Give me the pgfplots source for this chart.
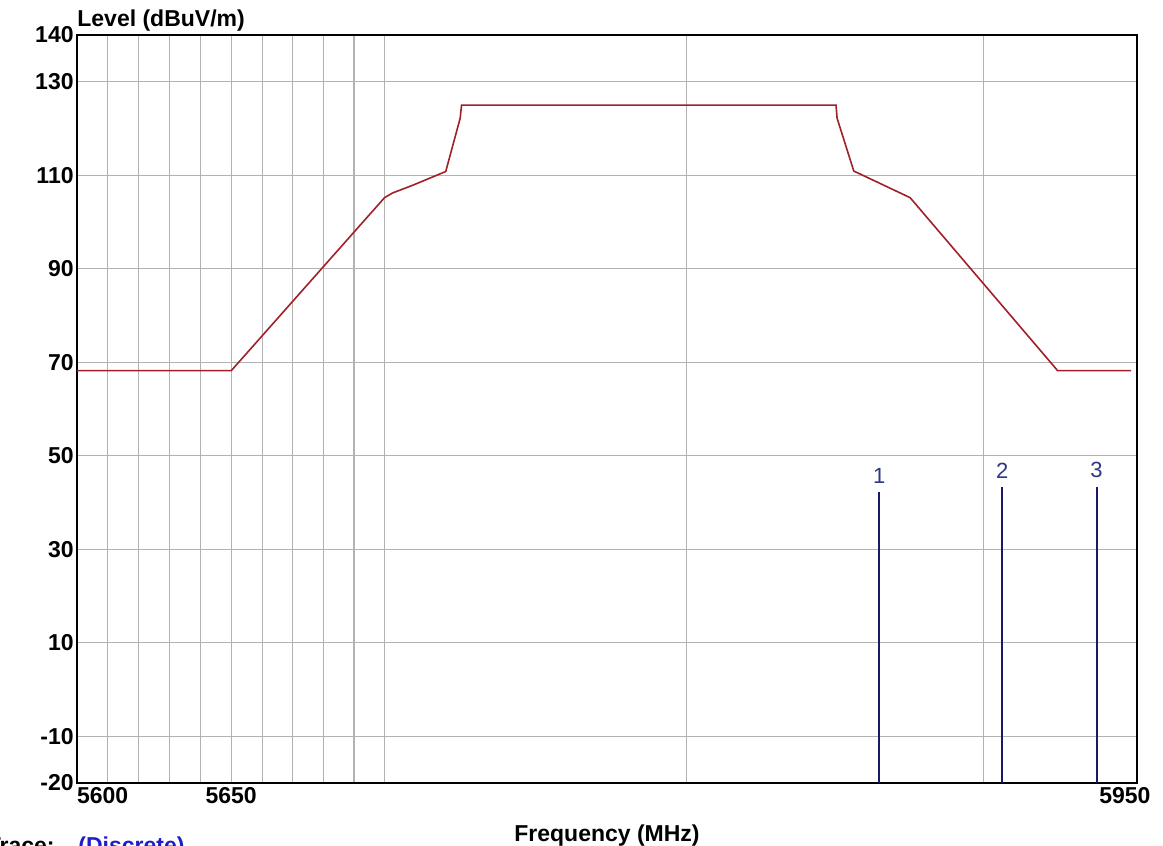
\documentclass[border=0pt]{standalone}
\usepackage{fontspec}
\setmainfont{Liberation Sans}
\usepackage{pgfplots}
\pgfplotsset{compat=1.18}

\definecolor{gridgray}{RGB}{178,178,178}
\definecolor{maskred}{RGB}{160,32,42}
\definecolor{mkrblue}{RGB}{25,25,105}
\definecolor{mkrlabel}{RGB}{45,55,135}
\definecolor{linkblue}{RGB}{30,30,200}

\newcommand{\lblfont}{\fontsize{11.5}{13}\selectfont\bfseries}

\begin{document}
\begin{tikzpicture}
\path[use as bounding box] (0,0) rectangle (581.5pt,423pt);
\begin{axis}[
  at={(38.5pt,31.5pt)}, anchor=south west,
  scale only axis, width=530pt, height=374pt,
  % log frequency axis over a narrow band: done by hand to keep TeX dimensions small
  x coord trafo/.code={\pgfmathparse{1000*ln(#1/5600)}},
  x coord inv trafo/.code={\pgfmathparse{5600*exp(#1/1000)}},
  xmin=5600, xmax=5952.1,
  ymin=-20, ymax=140,
  xtick={5600,5610,5620,5630,5640,5650,5660,5670,5680,5690,5700,5800,5900},
  xticklabels={\makebox[0pt][l]{5600},,,,,5650,,,,,,,},
  extra x ticks={5950},
  extra x tick labels={\hspace*{-6pt}5950},
  extra x tick style={grid=none},
  ytick={140,130,110,90,70,50,30,10,-10,-20},
  yticklabels={140,130,110,90,70,50,30,10,-10,-20},
  major tick length=0pt,
  grid=major,
  major grid style={gridgray, line width=0.6pt},
  axis line style={line width=1pt},
  ticklabel style={font=\lblfont},
  yticklabel style={inner sep=1.5pt},
  xticklabel style={inner sep=2pt},
  title={Level (dBuV/m)},
  title style={at={(rel axis cs:0,1)}, anchor=base west, yshift=-2pt, inner sep=0pt, font=\lblfont},
  xlabel={Frequency (MHz)},
  xlabel style={at={(rel axis cs:0.5,0)}, anchor=base, yshift=-29.3pt, inner sep=0pt, font=\lblfont},
]

% limit line
\addplot[maskred, line width=0.8pt] coordinates {
  (5600,68.2) (5650,68.2) (5700,105.2) (5702.7,106.2) (5709.4,107.9)
  (5720,110.8) (5725,122.2) (5725.3,125) (5850,125) (5850.3,122.2)
  (5856,110.9) (5864.7,108.3) (5875,105.2) (5925,68.2) (5950,68.2)
};

% markers
\addplot[mkrblue, line width=1pt] coordinates {(5864.5,-20) (5864.5,42.3)};
\addplot[mkrblue, line width=1pt] coordinates {(5906.1,-20) (5906.1,43.4)};
\addplot[mkrblue, line width=1pt] coordinates {(5938.3,-20) (5938.3,43.4)};
\addplot[draw=none, mark=none, nodes near coords, point meta=explicit symbolic,
  nodes near coords style={anchor=south, inner sep=0pt, yshift=4pt, text=mkrlabel,
    font=\fontsize{11}{13}\selectfont}]
  coordinates {(5864.5,42.3) [1] (5906.1,43.4) [2] (5938.3,43.4) [3]};

\end{axis}
\node[anchor=base east, inner sep=0pt, font=\lblfont] at (27.5pt,-3.75pt) {Trace:};
\node[anchor=base west, inner sep=0pt, font=\lblfont, text=linkblue] at (39pt,-3.75pt) {(Discrete)};
\end{tikzpicture}
\end{document}
